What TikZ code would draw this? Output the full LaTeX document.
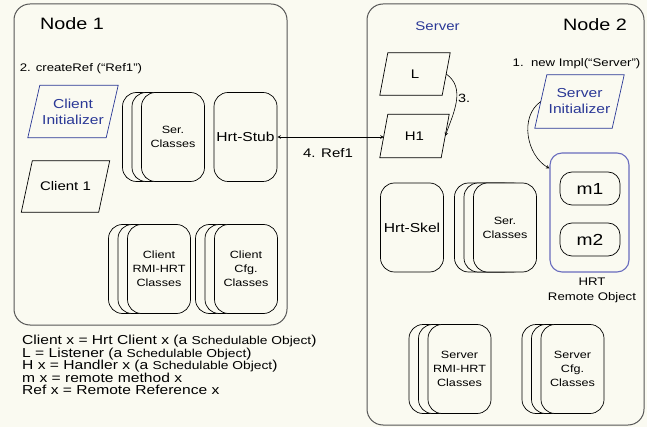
\documentclass[tikz,border=0pt]{standalone}
\usepackage{fontspec}
\setmainfont{Liberation Sans}[FakeStretch=1.2]
\usetikzlibrary{positioning,shadows}

\definecolor{paper}{RGB}{250,250,241}
\definecolor{frame}{RGB}{85,85,85}
\definecolor{initblue}{RGB}{42,56,150}
\definecolor{objblue}{RGB}{105,108,190}

\newcommand{\sizefont}[2]{\fontsize{#1}{#2}\selectfont}

\tikzset{
  nodebox/.style={draw=frame, line width=1pt, rounded corners=16pt},
  title/.style={font=\sizefont{16.5}{19}},
  card/.style={draw, line width=0.7pt, fill=paper, rounded corners=14pt,
    minimum width=63pt, minimum height=89pt, inner sep=1pt, align=center,
    font=\sizefont{13}{15}},
  stack/.style={card, font=\sizefont{10.5}{14},
    copy shadow={shadow xshift=-19pt, shadow yshift=0pt, fill=paper, draw=black},
    copy shadow={shadow xshift=-9.5pt, shadow yshift=0pt, fill=paper, draw=black}},
  para/.style 2 args={minimum width=78pt, minimum height=52pt, inner sep=1pt,
    align=center, font=\sizefont{12.5}{16},
    append after command={\pgfextra{\draw [line width=0.7pt, draw=#1]
      ([xshift=#2]\tikzlastnode.north west) -- ([xshift=#2]\tikzlastnode.north east) --
      ([xshift=-#2]\tikzlastnode.south east) -- ([xshift=-#2]\tikzlastnode.south west) -- cycle;}}},
  initpara/.style={para={initblue}{6pt}, text=initblue, font=\sizefont{13}{16}},
  method/.style={draw, line width=0.7pt, rounded corners=12pt,
    minimum width=60pt, minimum height=33pt, font=\sizefont{16}{18}},
  steplabel/.style={font=\sizefont{11}{13}},
  legend/.style={anchor=north west, align=left, inner sep=0pt,
    font=\sizefont{13}{12.5}},
}

\begin{document}
\begin{tikzpicture}[x=1pt, y=-1pt, >=stealth]
      %\draw [dotted] (0,0) grid [step=20] (647,427);
      \useasboundingbox (0,0) rectangle (647,427);
      \fill [paper] (0,0) rectangle (647,427);
      \node [nodebox, minimum width=273pt, minimum height=321pt] (node1) at (150.5,164.5) {};
      \node [nodebox, minimum width=277pt, minimum height=421pt] (node2) at (505.5,214.5) {};
      \node [title]                 (t1) at ( 72.0,  24.0) {Node 1};
      \node [title]                 (t2) at (595.0,  24.5) {Node 2};
      \node [font=\sizefont{12.5}{14}, text=initblue] (srv) at (437.5, 26.5) {Server};
      \node [steplabel]             (s2) at ( 81.0,  69.0) {2. createRef (“Ref1”)};
      \node [steplabel]             (s1) at (576.5,  64.0) {1.\ \ new Impl(“Server”)};
      \node [initpara]           (cinit) at ( 73.0, 111.5) {Client\\Initializer};
      \node [para={black}{5.5pt}, minimum width=77pt, minimum height=51pt] (c1) at ( 65.5, 186.5) {Client 1};
      \node [stack]              (serc1) at (173.0, 137.0) {Ser.\\Classes};
      \node [card]                (stub) at (245.5, 137.0) {Hrt-Stub};
      \node [stack]               (crmi) at (159.0, 269.0) {Client\\RMI-HRT\\Classes};
      \node [stack]               (ccfg) at (246.0, 269.0) {Client\\Cfg.\\Classes};
      \node [para={black}{4pt}, minimum width=62pt, minimum height=42pt] (l)  at (415.0,  74.0) {L};
      \node [para={black}{4pt}, minimum width=61pt, minimum height=43pt] (h1) at (414.5, 136.0) {H1};
      \node [steplabel, font=\sizefont{12}{14}] (s3) at (464.0,  98.0) {3.};
      \node [steplabel, font=\sizefont{12.5}{14}] (s4) at (328.0, 153.0) {4. Ref1};
      \node [initpara, minimum width=77pt, minimum height=53pt] (sinit) at (579.5, 101.5) {Server\\Initializer};
      \node [card]                (skel) at (412.0, 227.5) {Hrt-Skel};
      \node [stack]              (serc2) at (505.0, 227.5) {Ser.\\Classes};
      \node [draw=objblue, line width=1.1pt, rounded corners=12pt,
             minimum width=79pt, minimum height=119pt] (hrt) at (589.5, 212.5) {};
      \node [method]                (m1) at (590.0, 188.5) {m1};
      \node [method]                (m2) at (590.0, 239.5) {m2};
      \node [align=center, font=\sizefont{11}{15}] (hrtl) at (592.0, 290.0) {HRT\\Remote Object};
      \node [stack]               (srmi) at (459.5, 369.0) {Server\\RMI-HRT\\Classes};
      \node [stack]               (scfg) at (572.5, 369.0) {Server\\Cfg.\\Classes};
      \node [legend] (key) at (22,335) {Client x = Hrt Client x (a {\sizefont{11.5}{12}Schedulable Object})\\
        L = Listener (a {\sizefont{11.5}{12}Schedulable Object})\\
        H x = Handler x (a {\sizefont{11.5}{12}Schedulable Object})\\
        m x = remote method x\\
        Ref x = Remote Reference x};
      \draw [<->, line width=0.6pt] (stub.east) -- (stub.east -| h1.west);
      \draw [->, line width=0.6pt] (l.east) to [out=-35, in=70] (h1.east);
      \draw [->, line width=0.6pt] (sinit.west) to [out=215, in=150] ([yshift=-16pt]hrt.north west);
\end{tikzpicture}
\end{document}
